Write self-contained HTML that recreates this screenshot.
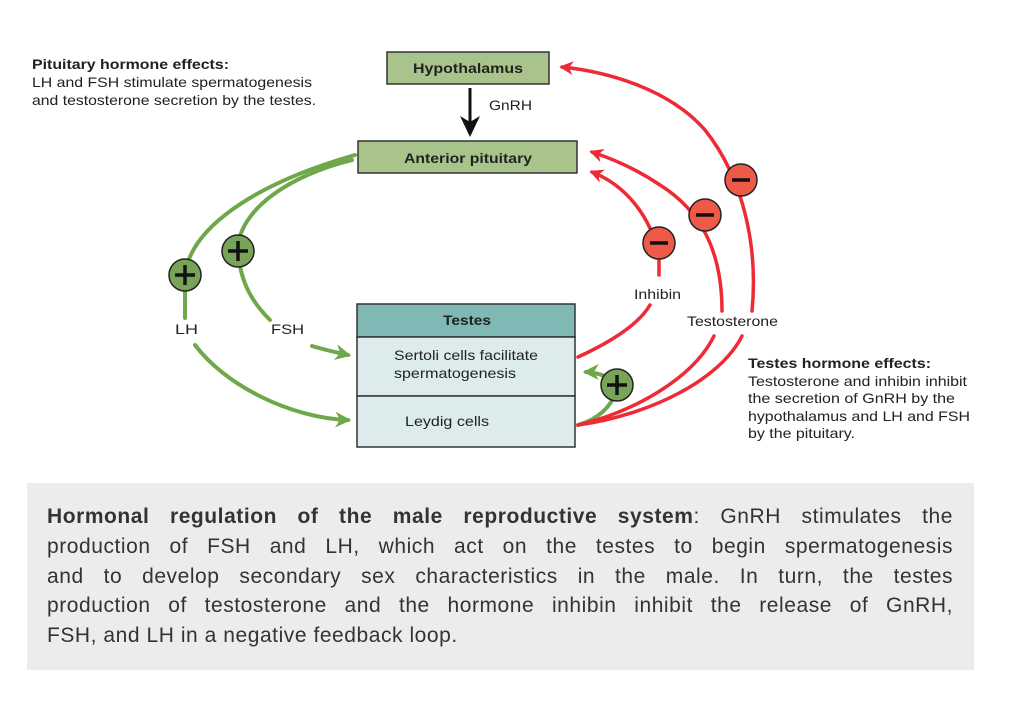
<!DOCTYPE html>
<html><head><meta charset="utf-8">
<style>
html,body{margin:0;padding:0;background:#fff;}
body{width:1020px;height:712px;position:relative;overflow:hidden;font-family:"Liberation Sans",sans-serif;}
svg{position:absolute;left:0;top:0;}
.cap{position:absolute;left:27px;top:483px;width:947px;height:187px;background:#ececec;}
.cap .l{position:absolute;left:20px;width:906px;font-size:21px;letter-spacing:0.55px;color:#333;text-align:justify;text-align-last:justify;white-space:nowrap;line-height:30px;}
.cap .l.last{text-align-last:left;}
</style></head><body>
<svg width="1020" height="712" viewBox="0 0 1020 712" font-family="Liberation Sans, sans-serif">
<defs>
<marker id="ag" viewBox="0 0 10 10" refX="8" refY="5" markerWidth="4" markerHeight="4" orient="auto"><path d="M0,0 L10,5 L0,10 L3,5z" fill="#6fa84a"/></marker>
<marker id="ar" viewBox="0 0 10 10" refX="8" refY="5" markerWidth="4" markerHeight="4" orient="auto"><path d="M0,0 L10,5 L0,10 L3,5z" fill="#ee2a35"/></marker>
</defs>
<g font-size="14" fill="#222" lengthAdjust="spacingAndGlyphs">
<text x="32" y="69" font-weight="bold" textLength="197" lengthAdjust="spacingAndGlyphs">Pituitary hormone effects:</text>
<text x="32" y="87" textLength="280" lengthAdjust="spacingAndGlyphs">LH and FSH stimulate spermatogenesis</text>
<text x="32" y="105" textLength="284" lengthAdjust="spacingAndGlyphs">and testosterone secretion by the testes.</text>
<text x="748" y="368" font-weight="bold" textLength="183" lengthAdjust="spacingAndGlyphs">Testes hormone effects:</text>
<text x="748" y="386" textLength="219" lengthAdjust="spacingAndGlyphs">Testosterone and inhibin inhibit</text>
<text x="748" y="403" textLength="207" lengthAdjust="spacingAndGlyphs">the secretion of GnRH by the</text>
<text x="748" y="421" textLength="222" lengthAdjust="spacingAndGlyphs">hypothalamus and LH and FSH</text>
<text x="748" y="438" textLength="107" lengthAdjust="spacingAndGlyphs">by the pituitary.</text>
</g>
<rect x="387" y="52" width="162" height="32" fill="#a8c48a" stroke="#333" stroke-width="1.5"/>
<text x="413" y="73" font-size="14" font-weight="bold" fill="#222" textLength="110" lengthAdjust="spacingAndGlyphs">Hypothalamus</text>
<rect x="358" y="141" width="219" height="32" fill="#a8c48a" stroke="#333" stroke-width="1.5"/>
<text x="404" y="163" font-size="14" font-weight="bold" fill="#222" textLength="128" lengthAdjust="spacingAndGlyphs">Anterior pituitary</text>
<rect x="357" y="304" width="218" height="33" fill="#7fb8b4" stroke="#333" stroke-width="1.5"/>
<text x="443" y="325" font-size="14" font-weight="bold" fill="#222" textLength="48" lengthAdjust="spacingAndGlyphs">Testes</text>
<rect x="357" y="337" width="218" height="59" fill="#dcecec" stroke="#333" stroke-width="1.5"/>
<rect x="357" y="396" width="218" height="51" fill="#dcecec" stroke="#333" stroke-width="1.5"/>
<text x="394" y="360" font-size="14" fill="#222" textLength="144" lengthAdjust="spacingAndGlyphs">Sertoli cells facilitate</text>
<text x="394" y="378" font-size="14" fill="#222" textLength="122" lengthAdjust="spacingAndGlyphs">spermatogenesis</text>
<text x="405" y="426" font-size="14" fill="#222" textLength="84" lengthAdjust="spacingAndGlyphs">Leydig cells</text>
<line x1="470" y1="88" x2="470" y2="122" stroke="#111" stroke-width="3"/>
<path d="M460,116 L470,137 L480,116 L470,122z" fill="#111"/>
<text x="489" y="110" font-size="14" fill="#222" textLength="43" lengthAdjust="spacingAndGlyphs">GnRH</text>
<g fill="none" stroke="#6fa84a" stroke-width="4" stroke-linecap="round">
<path d="M355,155 C250,185 190,230 185,275 L185,318"/>
<path d="M195,345 C225,385 290,418 348,420" marker-end="url(#ag)"/>
<path d="M352,160 C290,175 238,210 238,250 C240,285 255,305 270,320"/>
<path d="M312,346 C325,350 335,352 348,355" marker-end="url(#ag)"/>
<path d="M578,425 C595,420 610,410 617,390"/>
<path d="M610,378 C600,374 592,372 586,372" marker-end="url(#ag)"/>
</g>
<g fill="none" stroke="#ee2a35" stroke-width="3.5" stroke-linecap="round">
<path d="M578,357 C615,340 640,322 650,305"/>
<path d="M659,275 L659,255 C650,215 625,185 592,172" marker-end="url(#ar)"/>
<path d="M578,425 C640,410 695,375 714,336"/>
<path d="M578,425 C650,415 720,380 742,336"/>
<path d="M722,311 C722,250 700,210 660,185 C635,168 610,158 592,152" marker-end="url(#ar)"/>
<path d="M752,311 C758,250 745,180 705,130 C670,90 610,72 562,67" marker-end="url(#ar)"/>
</g>
<text x="634" y="299" font-size="14" fill="#222" textLength="47" lengthAdjust="spacingAndGlyphs">Inhibin</text>
<text x="687" y="326" font-size="14" fill="#222" textLength="91" lengthAdjust="spacingAndGlyphs">Testosterone</text>
<text x="175" y="334" font-size="14" fill="#222" textLength="23" lengthAdjust="spacingAndGlyphs">LH</text>
<text x="271" y="334" font-size="14" fill="#222" textLength="33" lengthAdjust="spacingAndGlyphs">FSH</text>
<g stroke="#222" stroke-width="1.5">
<circle cx="185" cy="275" r="16" fill="#7aa35a"/>
<circle cx="238" cy="251" r="16" fill="#7aa35a"/>
<circle cx="617" cy="385" r="16" fill="#7aa35a"/>
<circle cx="659" cy="243" r="16" fill="#ef5a48"/>
<circle cx="705" cy="215" r="16" fill="#ef5a48"/>
<circle cx="741" cy="180" r="16" fill="#ef5a48"/>
</g>
<g stroke="#111" stroke-width="3.5">
<path d="M175,275 H195 M185,265 V285"/>
<path d="M228,251 H248 M238,241 V261"/>
<path d="M607,385 H627 M617,375 V395"/>
<path d="M650,243 H668"/>
<path d="M696,215 H714"/>
<path d="M732,180 H750"/>
</g>
</svg>
<div class="cap">
<div class="l" style="top:19px"><b>Hormonal regulation of the male reproductive system</b>: GnRH stimulates the</div>
<div class="l" style="top:49px">production of FSH and LH, which act on the testes to begin spermatogenesis</div>
<div class="l" style="top:79px">and to develop secondary sex characteristics in the male. In turn, the testes</div>
<div class="l" style="top:108px">production of testosterone and the hormone inhibin inhibit the release of GnRH,</div>
<div class="l last" style="top:138px">FSH, and LH in a negative feedback loop.</div>
</div>
</body></html>
